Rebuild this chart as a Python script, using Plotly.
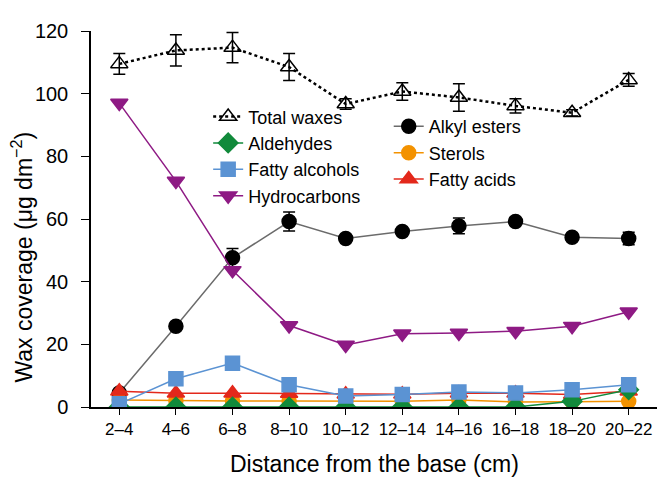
import plotly.graph_objects as go

distance = ['2–4', '4–6', '6–8', '8–10', '10–12', '12–14', '14–16', '16–18', '18–20', '20–22']

total_waxes = [109.5, 113.8, 114.7, 108.5, 96.7, 100.7, 98.8, 96.1, 93.9, 104.4]
total_err = [3.3, 5.0, 4.8, 4.3, 1.7, 2.8, 4.4, 2.3, 1.0, 2.0]
alkyl_esters = [4.5, 25.8, 47.6, 59.2, 53.8, 56.0, 57.8, 59.2, 54.2, 53.8]
alkyl_err = [0, 0, 3.0, 3.0, 0, 0, 2.5, 0, 0, 2.0]
hydrocarbons = [97.0, 72.1, 43.6, 26.0, 19.8, 23.4, 23.6, 24.2, 25.8, 30.4]
fatty_alcohols = [1.0, 9.0, 14.0, 7.1, 3.5, 4.0, 4.8, 4.5, 5.5, 7.1]
fatty_acids = [5.0, 4.4, 4.4, 4.3, 4.1, 4.1, 4.4, 4.4, 4.0, 5.0]
sterols = [2.2, 2.0, 1.9, 1.9, 1.8, 1.8, 2.2, 1.6, 1.7, 1.8]
aldehydes = [0, 0, 0, 0, 0, 0, 0, 0, 1.8, 5.5]

FONT = 'Liberation Sans, Arial, sans-serif'

fig = go.Figure()

def add(name, y, color, symbol, line_color=None, err=None, legend='legend', rank=1,
        dash='solid', size=14, line_width=1.5):
  fig.add_trace(go.Scatter(
    x=distance, y=y, name=name, mode='lines+markers',
    line=dict(color=line_color or color, width=line_width, dash=dash),
    marker=dict(color=color, symbol=symbol, size=size,
                line=dict(color=color, width=1.5)),
    error_y=dict(type='data', array=err, visible=err is not None,
                 color='black', thickness=1.5, width=6),
    legend=legend, legendrank=rank,
  ))

add('Alkyl esters', alkyl_esters, 'black', 'circle', line_color='#6b6b6b', err=alkyl_err,
    legend='legend2', rank=1, size=14)
add('Sterols', sterols, '#f39200', 'circle', legend='legend2', rank=2, size=14)
add('Fatty acids', fatty_acids, '#e3281b', 'triangle-up', legend='legend2', rank=3, size=15)
add('Aldehydes', aldehydes, '#118a3b', 'diamond', rank=2, size=15)
add('Fatty alcohols', fatty_alcohols, '#5b93d3', 'square', rank=3, size=14)
add('Hydrocarbons', hydrocarbons, '#8e1a84', 'triangle-down', rank=4, size=15)
add('Total waxes', total_waxes, 'black', 'triangle-up-open', err=total_err, rank=1,
    dash='dot', size=15, line_width=2.5)

legend_style = dict(font=dict(family=FONT, size=18, color='black'),
                    bgcolor='rgba(0,0,0,0)', itemwidth=30, tracegroupgap=0,
                    xanchor='left', yanchor='top')

# the page body adds an 8px margin, so the margins are trimmed to match
fig.update_layout(
  width=668, height=502,
  margin=dict(l=83, r=19, t=13, b=103),
  plot_bgcolor='white', paper_bgcolor='white',
  font=dict(family=FONT, size=18, color='black'),
  legend=dict(x=0.207, y=0.821, **legend_style),
  legend2=dict(x=0.526, y=0.795, **legend_style),
  xaxis=dict(
    range=[-0.5, 9.5], showgrid=False, zeroline=False,
    showline=True, linecolor='black', linewidth=1.5,
    ticks='outside', ticklen=6, tickcolor='black', tickwidth=1.2,
    tickfont=dict(size=17),
  ),
  yaxis=dict(
    range=[0, 120], dtick=20, showgrid=False, zeroline=False,
    showline=True, linecolor='black', linewidth=1.5,
    ticks='outside', ticklen=8, tickcolor='black', tickwidth=1.2,
    tickfont=dict(size=20), ticklabelstandoff=9,
  ),
  annotations=[
    dict(text='Distance from the base (cm)', xref='paper', yref='paper',
         x=0.5, y=-0.152, xanchor='center', yanchor='middle',
         showarrow=False, font=dict(size=23)),
    dict(text='Wax coverage (μg dm<sup>−2</sup>)', xref='paper', yref='paper',
         x=-0.122, y=0.40, xanchor='center', yanchor='middle', textangle=-90,
         showarrow=False, font=dict(size=23)),
  ],
)

fig.write_html("out.html")
